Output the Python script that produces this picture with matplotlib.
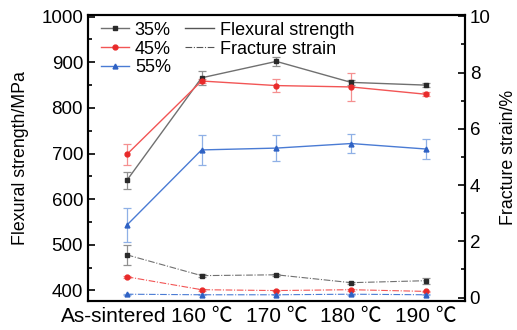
import matplotlib
matplotlib.use("Agg")
import matplotlib.pyplot as plt
import matplotlib.transforms as mtransforms
from matplotlib.lines import Line2D
from matplotlib.ticker import MultipleLocator
import numpy as np

plt.rcParams['font.family'] = ['Liberation Sans', 'Noto Sans CJK SC', 'DejaVu Sans']

categories = ["As-sintered", "160 ℃", "170 ℃", "180 ℃", "190 ℃"]
groups = ["35%", "45%", "55%"]

# flexural strength (MPa) and error
strength = {
    "35%": [641, 866, 902, 856, 850],
    "45%": [698, 859, 849, 846, 830],
    "55%": [543, 708, 712, 722, 710],
}
strength_err = {
    "35%": [18, 16, 10, 6, 4],
    "45%": [22, 5, 15, 30, 4],
    "55%": [37, 33, 29, 20, 22],
}

# fracture strain (%) and error
strain = {
    "35%": [1.52, 0.78, 0.81, 0.53, 0.60],
    "45%": [0.74, 0.28, 0.25, 0.28, 0.22],
    "55%": [0.12, 0.10, 0.10, 0.12, 0.10],
}
strain_err = {
    "35%": [0.35, 0.06, 0.04, 0.04, 0.1],
    "45%": [0.04, 0.03, 0.03, 0.03, 0.03],
    "55%": [0.02, 0.02, 0.02, 0.02, 0.02],
}

line_colors = {"35%": "#707070", "45%": "#f25555", "55%": "#4a7bd4"}
marker_colors = {"35%": "#2a2a2a", "45%": "#e82a2a", "55%": "#2f62c4"}
err_colors = {"35%": "#909090", "45%": "#f59090", "55%": "#8fb0e6"}
markers = {"35%": "s", "45%": "o", "55%": "^"}
dashdot = (0, (6, 1.5, 1, 1.5))

fig = plt.figure(figsize=(5.17, 3.30), dpi=100)
ax = fig.add_axes([0.170, 0.088, 0.729, 0.867])
ax2 = ax.twinx()

x = np.arange(len(categories))

for g in groups:
    ax.errorbar(x, strength[g], yerr=strength_err[g], color=line_colors[g],
                ecolor=err_colors[g], elinewidth=0.9, capsize=3, capthick=0.9,
                linewidth=1.0, marker=markers[g], markersize=3.5,
                markerfacecolor=marker_colors[g], markeredgecolor=marker_colors[g],
                zorder=3)
    ax2.errorbar(x, strain[g], yerr=strain_err[g], color=line_colors[g],
                 ecolor=err_colors[g], elinewidth=0.9, capsize=3, capthick=0.9,
                 linewidth=0.8, linestyle=dashdot, marker=markers[g],
                 markersize=3.5, markerfacecolor=marker_colors[g],
                 markeredgecolor=marker_colors[g], zorder=3)

ax.set_xlim(-0.52, 4.52)
ax.set_ylim(377, 1004)
ax2.set_ylim(-0.12, 10.05)

ax.set_xticks(x)
ax.set_xticklabels(categories, fontsize=15)
ax.tick_params(axis='x', length=0, pad=4)
# nudge the long first label left so it clears the next one
shift = mtransforms.ScaledTranslation(-13 / 100, 0, fig.dpi_scale_trans)
first = ax.get_xticklabels()[0]
first.set_transform(first.get_transform() + shift)

ax.yaxis.set_major_locator(MultipleLocator(100))
ax.yaxis.set_minor_locator(MultipleLocator(50))
ax2.yaxis.set_major_locator(MultipleLocator(2))
ax2.yaxis.set_minor_locator(MultipleLocator(1))
for a in (ax, ax2):
    a.tick_params(axis='y', which='both', direction='in', labelsize=13.5, width=1.2)
    a.tick_params(axis='y', which='major', length=5)
    a.tick_params(axis='y', which='minor', length=3)
    for s in a.spines.values():
        s.set_linewidth(1.5)

ax.set_ylabel("Flexural strength/MPa", fontsize=12.8, labelpad=9)
ax2.set_ylabel("Fracture strain/%", fontsize=12.8, labelpad=7)

handles = [Line2D([], [], color=line_colors[g], marker=markers[g], markersize=3.5,
                  markerfacecolor=marker_colors[g], markeredgecolor=marker_colors[g],
                  linewidth=1.0) for g in groups]
handles += [Line2D([], [], color="#555555", linewidth=1.0),
            Line2D([], [], color="#555555", linewidth=0.8, linestyle=dashdot),
            Line2D([], [], color="none")]
labels = groups + ["Flexural strength", "Fracture strain", ""]
ax.legend(handles, labels, ncol=2, frameon=False, loc="upper left",
          bbox_to_anchor=(0.0, 1.02), fontsize=13, handlelength=1.6,
          handletextpad=0.3, columnspacing=0.8, labelspacing=0.1,
          borderaxespad=0.3)

fig.savefig("out.png", dpi=100)
